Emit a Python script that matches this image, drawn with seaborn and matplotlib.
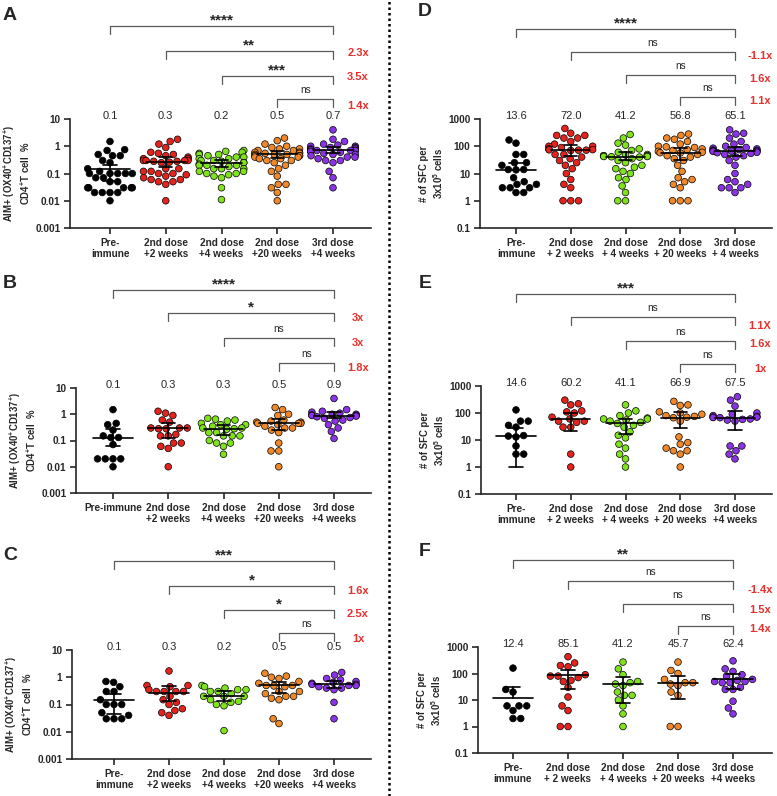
import warnings
import numpy as np
import pandas as pd
import matplotlib
matplotlib.use("Agg")
import matplotlib.pyplot as plt
import matplotlib.transforms as mtransforms
from matplotlib.lines import Line2D
from matplotlib.ticker import NullLocator
import seaborn as sns

warnings.filterwarnings("ignore")

# ---- data ----
colors = ["#000000", "#e5231e", "#7fe31c", "#f0882a", "#8b34e6"]

labels_aim = ["Pre-\nimmune", "2nd dose\n+2 weeks", "2nd dose\n+4 weeks",
              "2nd dose\n+20 weeks", "3rd dose\n+4 weeks"]
labels_aim_b = ["Pre-immune", "2nd dose\n+2 weeks", "2nd dose\n+4 weeks",
                "2nd dose\n+20 weeks", "3rd dose\n+4 weeks"]
labels_sfc_d = ["Pre-\nimmune", "2nd dose\n+ 2 weeks", "2nd dose\n+ 4 weeks",
                "2nd dose\n+ 20 weeks", "3rd dose\n+ 4 weeks"]
labels_sfc = ["Pre-\nimmune", "2nd dose\n+ 2 weeks", "2nd dose\n+ 4 weeks",
              "2nd dose\n+ 20 weeks", "3rd dose\n+4 weeks"]

A_values = [
    [1.5, 0.75, 0.7, 0.5, 0.45, 0.45, 0.3, 0.25, 0.15, 0.12, 0.1, 0.1, 0.1, 0.1,
     0.1, 0.07, 0.07, 0.05, 0.05, 0.03, 0.03, 0.03, 0.03, 0.03, 0.02, 0.02, 0.02,
     0.02, 0.01],
    [1.8, 1.5, 1.2, 0.9, 0.6, 0.55, 0.5, 0.45, 0.4, 0.35, 0.35, 0.3, 0.3, 0.3,
     0.3, 0.28, 0.28, 0.26, 0.25, 0.15, 0.15, 0.12, 0.12, 0.1, 0.1, 0.09, 0.08,
     0.07, 0.06, 0.06, 0.05, 0.05, 0.04, 0.01],
    [0.7, 0.65, 0.6, 0.55, 0.5, 0.5, 0.45, 0.4, 0.4, 0.35, 0.35, 0.3, 0.3, 0.28,
     0.25, 0.25, 0.22, 0.2, 0.2, 0.2, 0.18, 0.15, 0.15, 0.15, 0.12, 0.12, 0.1,
     0.1, 0.09, 0.08, 0.07, 0.03, 0.011],
    [2.0, 1.6, 1.2, 1.0, 0.9, 0.8, 0.8, 0.7, 0.7, 0.6, 0.6, 0.55, 0.55, 0.5, 0.5,
     0.5, 0.45, 0.45, 0.45, 0.4, 0.4, 0.35, 0.35, 0.3, 0.3, 0.25, 0.2, 0.15, 0.12,
     0.08, 0.04, 0.04, 0.03, 0.02, 0.01],
    [4.0, 1.8, 1.5, 1.2, 1.1, 1.0, 1.0, 0.9, 0.9, 0.8, 0.8, 0.75, 0.7, 0.7, 0.7,
     0.7, 0.65, 0.65, 0.6, 0.55, 0.5, 0.5, 0.45, 0.4, 0.4, 0.35, 0.3, 0.3, 0.25,
     0.12, 0.07, 0.03],
]
B_values = [
    [1.5, 0.45, 0.4, 0.25, 0.15, 0.13, 0.13, 0.07, 0.02, 0.02, 0.02, 0.02, 0.01],
    [1.3, 1.1, 0.9, 0.6, 0.5, 0.3, 0.3, 0.3, 0.28, 0.28, 0.17, 0.15, 0.15, 0.08,
     0.08, 0.06, 0.05, 0.01],
    [0.7, 0.65, 0.6, 0.55, 0.45, 0.4, 0.4, 0.35, 0.3, 0.3, 0.28, 0.27, 0.2, 0.2,
     0.15, 0.15, 0.15, 0.1, 0.08, 0.08, 0.06, 0.03],
    [1.8, 1.5, 1.0, 0.9, 0.6, 0.55, 0.5, 0.5, 0.45, 0.45, 0.45, 0.4, 0.35, 0.3,
     0.3, 0.25, 0.2, 0.08, 0.04, 0.04, 0.01],
    [4.0, 1.5, 1.3, 1.2, 1.1, 1.0, 1.0, 0.95, 0.9, 0.9, 0.85, 0.8, 0.75, 0.7, 0.6,
     0.55, 0.4, 0.3, 0.22, 0.12],
]
C_values = [
    [0.7, 0.65, 0.45, 0.3, 0.3, 0.15, 0.1, 0.1, 0.1, 0.05, 0.04, 0.03, 0.03, 0.03],
    [1.7, 0.5, 0.45, 0.5, 0.3, 0.3, 0.3, 0.35, 0.3, 0.2, 0.15, 0.12, 0.1, 0.07,
     0.06, 0.05, 0.04],
    [0.5, 0.45, 0.4, 0.35, 0.35, 0.3, 0.3, 0.25, 0.2, 0.2, 0.2, 0.15, 0.13, 0.12,
     0.1, 0.09, 0.011],
    [1.4, 1.1, 1.0, 0.9, 0.7, 0.6, 0.5, 0.5, 0.45, 0.48, 0.3, 0.3, 0.25, 0.2, 0.2,
     0.17, 0.15, 0.03, 0.02],
    [1.5, 1.2, 0.9, 0.8, 0.7, 0.65, 0.6, 0.55, 0.55, 0.5, 0.5, 0.45, 0.4, 0.4,
     0.35, 0.12, 0.03],
]
D_values = [
    [170, 130, 50, 50, 25, 25, 20, 14, 14, 13.6, 7, 5, 4, 4, 3, 3, 3, 2, 2],
    [450, 300, 250, 250, 200, 200, 150, 120, 100, 100, 90, 80, 75, 74, 72, 72, 70,
     50, 50, 40, 35, 30, 25, 20, 15, 10, 6, 4, 3, 1, 1, 1],
    [270, 200, 130, 110, 80, 70, 60, 50, 48, 45, 45, 45, 45, 42, 42, 41.2, 40, 35,
     30, 25, 20, 17, 15, 12, 10, 7, 6, 3.5, 2, 1, 1],
    [280, 250, 200, 180, 150, 120, 100, 95, 90, 80, 75, 70, 65, 60, 58, 56.8, 50,
     45, 40, 35, 30, 20, 12, 7, 6, 5, 4, 3, 1, 1, 1],
    [400, 300, 280, 200, 150, 120, 100, 90, 85, 80, 75, 72, 70, 68, 66, 65.5, 65.1,
     60, 58, 55, 50, 45, 40, 30, 20, 10, 6, 5, 4, 3, 3, 3, 2],
]
E_values = [
    [130, 50, 50, 35, 30, 14.6, 14, 13, 6, 3, 3],
    [300, 220, 200, 120, 110, 100, 70, 60.2, 50, 50, 45, 30, 30, 3, 1],
    [200, 120, 100, 80, 65, 60, 60, 55, 50, 45, 41.1, 35, 30, 20, 15, 12, 7, 5, 3,
     2, 1],
    [270, 200, 190, 110, 100, 90, 80, 75, 70, 66.9, 50, 13, 8, 7, 5, 4, 4, 3, 1],
    [400, 300, 180, 100, 90, 80, 75, 70, 70, 68, 67, 60, 58, 55, 50, 6, 6, 4, 3, 2],
]
F_values = [
    [160, 25, 20, 6, 6, 6, 4, 2, 2],
    [430, 250, 200, 180, 90, 80, 80, 70, 55, 50, 30, 13, 6, 4, 1, 1],
    [270, 150, 90, 50, 45, 40, 35, 20, 15, 15, 10, 6, 3, 1],
    [270, 130, 100, 60, 45, 45, 40, 35, 20, 15, 1, 1],
    [300, 150, 120, 90, 80, 60, 55, 50, 50, 45, 45, 30, 25, 25, 9, 5, 3],
]

# centre line and error bar ends (low, high) per group
A_center = [0.148, 0.27, 0.24, 0.5, 0.72]
A_err = [(0.055, 0.21), (0.17, 0.4), (0.17, 0.3), (0.38, 0.65), (0.56, 0.9)]
B_center = [0.13, 0.3, 0.27, 0.45, 0.85]
B_err = [(0.06, 0.27), (0.13, 0.46), (0.16, 0.4), (0.25, 0.65), (0.7, 1.2)]
C_center = [0.148, 0.275, 0.21, 0.5, 0.57]
C_err = [(0.046, 0.245), (0.13, 0.49), (0.13, 0.3), (0.26, 0.65), (0.4, 0.73)]
D_center = [13.6, 72.0, 41.2, 56.8, 65.1]
D_err = [(13.6, 24), (43, 110), (30, 60), (32, 85), (45, 95)]
E_center = [14.6, 60.2, 41.1, 66.9, 67.5]
E_err = [(1, 28), (22, 100), (16, 60), (28, 105), (23, 115)]
F_center = [12.4, 85.1, 41.2, 45.7, 62.4]
F_err = [(12.4, 31), (27, 140), (7.7, 75), (11, 80), (27, 100)]

A_means = ["0.1", "0.3", "0.2", "0.5", "0.7"]
B_means = ["0.1", "0.3", "0.3", "0.5", "0.9"]
C_means = ["0.1", "0.3", "0.2", "0.5", "0.5"]
D_means = ["13.6", "72.0", "41.2", "56.8", "65.1"]
E_means = ["14.6", "60.2", "41.1", "66.9", "67.5"]
F_means = ["12.4", "85.1", "41.2", "45.7", "62.4"]

A_sig = ["****", "**", "***", "ns"]
B_sig = ["****", "*", "ns", "ns"]
C_sig = ["***", "*", "*", "ns"]
D_sig = ["****", "ns", "ns", "ns"]
E_sig = ["***", "ns", "ns", "ns"]
F_sig = ["**", "ns", "ns", "ns"]

A_fold = ["2.3x", "3.5x", "1.4x"]
B_fold = ["3x", "3x", "1.8x"]
C_fold = ["1.6x", "2.5x", "1x"]
D_fold = ["-1.1x", "1.6x", "1.1x"]
E_fold = ["1.1X", "1.6x", "1x"]
F_fold = ["-1.4x", "1.5x", "1.4x"]

aim_ticks = [0.001, 0.01, 0.1, 1, 10]
aim_ticklabels = ["0.001", "0.01", "0.1", "1", "10"]
sfc_ticks = [0.1, 1, 10, 100, 1000]
sfc_ticklabels = ["0.1", "1", "10", "100", "1000"]
aim_ylabel = "AIM+ (OX40$^{\\mathbf{+}}$CD137$^{\\mathbf{+}}$)\nCD4$^{\\mathbf{+}}$T cell  %"
sfc_ylabel = "# of SFC per\n3x10$^{\\mathbf{5}}$ cells"

# ---- layout in pixels ----
W, H = 777, 796
panels = [
    ("A", A_values, A_center, A_err, A_means, A_sig, A_fold, labels_aim, aim_ticks,
     aim_ticklabels, aim_ylabel, (70, 371, 119, 228), (110, 333),
     [26, 51, 76, 99], [53, 77, 106], (10, 15), 358),
    ("B", B_values, B_center, B_err, B_means, B_sig, B_fold, labels_aim_b, aim_ticks,
     aim_ticklabels, aim_ylabel, (76, 371, 388, 493), (113, 334),
     [290, 313, 338, 363], [318, 343, 368], (10, 283), 358),
    ("C", C_values, C_center, C_err, C_means, C_sig, C_fold, labels_aim, aim_ticks,
     aim_ticklabels, aim_ylabel, (72, 371, 650, 759), (114, 334),
     [561, 586, 610, 633], [591, 614, 639], (10, 556), 358),
    ("D", D_values, D_center, D_err, D_means, D_sig, D_fold, labels_sfc_d, sfc_ticks,
     sfc_ticklabels, sfc_ylabel, (480, 772, 119, 228), (516, 735),
     [29, 52, 75, 97], [56, 79, 101], (425, 12), 760),
    ("E", E_values, E_center, E_err, E_means, E_sig, E_fold, labels_sfc, sfc_ticks,
     sfc_ticklabels, sfc_ylabel, (481, 772, 386, 494), (516, 735),
     [294, 317, 341, 364], [326, 344, 369], (425, 283), 760),
    ("F", F_values, F_center, F_err, F_means, F_sig, F_fold, labels_sfc, sfc_ticks,
     sfc_ticklabels, sfc_ylabel, (478, 772, 647, 753), (513, 733),
     [560, 581, 604, 626], [590, 610, 629], (425, 552), 760),
]

sns.set_style("ticks")
plt.rcParams["font.family"] = ["Liberation Sans", "DejaVu Sans"]
plt.rcParams["axes.linewidth"] = 1.2
plt.rcParams["mathtext.fontset"] = "custom"
plt.rcParams["mathtext.rm"] = "Liberation Sans:bold"
plt.rcParams["mathtext.bf"] = "Liberation Sans:bold"

fig = plt.figure(figsize=(W / 100, H / 100), dpi=100)
red = "#e8302c"
bracket_color = "#5a5a5a"


def fy(ypx):
    return 1 - ypx / H


for (letter, values, center, err, means, sig, fold, xlabels, yticks, yticklabels,
     ylabel, box, xpx, br_y, fold_y, letter_xy, fold_x) in panels:
    left, right, top, bottom = box
    ax = fig.add_axes([left / W, 1 - bottom / H, (right - left) / W, (bottom - top) / H])
    ax.set_yscale("log")

    df = pd.DataFrame({
        "group": np.concatenate([[i] * len(v) for i, v in enumerate(values)]),
        "value": np.concatenate(values),
    })
    sns.swarmplot(data=df, x="group", y="value", hue="group", order=range(5),
                  hue_order=range(5), palette=colors, size=4.8, linewidth=0.5,
                  edgecolor="black", legend=False, ax=ax, zorder=2)

    # centre line with error bars
    for i, (c, (lo, hi)) in enumerate(zip(center, err)):
        ax.plot([i - 0.36, i + 0.36], [c, c], color="black", lw=1.2, zorder=4)
        ax.plot([i, i], [lo, hi], color="black", lw=1.2, zorder=4)
        for e in (lo, hi):
            if e != c:
                ax.plot([i - 0.12, i + 0.12], [e, e], color="black", lw=1.2, zorder=4)

    scale = (xpx[1] - xpx[0]) / 4
    ax.set_xlim((left - xpx[0]) / scale, (right - xpx[0]) / scale)
    ax.set_ylim(yticks[0], yticks[-1])
    ax.set_yticks(yticks)
    ax.set_yticklabels(yticklabels, fontweight="bold", fontsize=7.2)
    ax.yaxis.set_minor_locator(NullLocator())
    ax.set_xticks(range(5))
    ax.set_xticklabels(xlabels, fontweight="bold", fontsize=7.2)
    ax.tick_params(axis="both", length=4, width=1.2, pad=3)
    ax.set_xlabel("")
    ax.set_ylabel(ylabel, fontweight="bold", fontsize=6.9, labelpad=2)
    sns.despine(ax=ax)

    trans = mtransforms.blended_transform_factory(ax.transData, fig.transFigure)

    for i, t in enumerate(means):
        ax.text(i, fy(top - 3), t, transform=trans, ha="center", va="center",
                fontsize=8)

    # brackets from each group to the last one
    for k, yb in enumerate(br_y):
        ax.plot([k, k, 4, 4], [fy(yb + 8), fy(yb), fy(yb), fy(yb + 8)],
                transform=trans, color=bracket_color, lw=0.9, clip_on=False)
        label = sig[k]
        if label == "ns":
            ax.text((k + 4) / 2, fy(yb - 9), label, transform=trans, ha="center",
                    va="center", fontsize=7.2)
        else:
            ax.text((k + 4) / 2, fy(yb - 6), label, transform=trans, ha="center",
                    va="center", fontsize=11, fontweight="bold")

    for t, yf in zip(fold, fold_y):
        fig.text(fold_x / W, fy(yf), t, ha="center", va="center", color=red,
                 fontsize=8, fontweight="bold")

    fig.text(letter_xy[0] / W, fy(letter_xy[1]), letter, ha="center", va="center",
             fontsize=14, fontweight="bold")

# dotted divider between the two columns
fig.add_artist(Line2D([389 / W, 389 / W], [0, 1], transform=fig.transFigure,
                      color="black", lw=1.8, linestyle=(0, (1, 1.2))))

fig.savefig("out.png", dpi=100)
